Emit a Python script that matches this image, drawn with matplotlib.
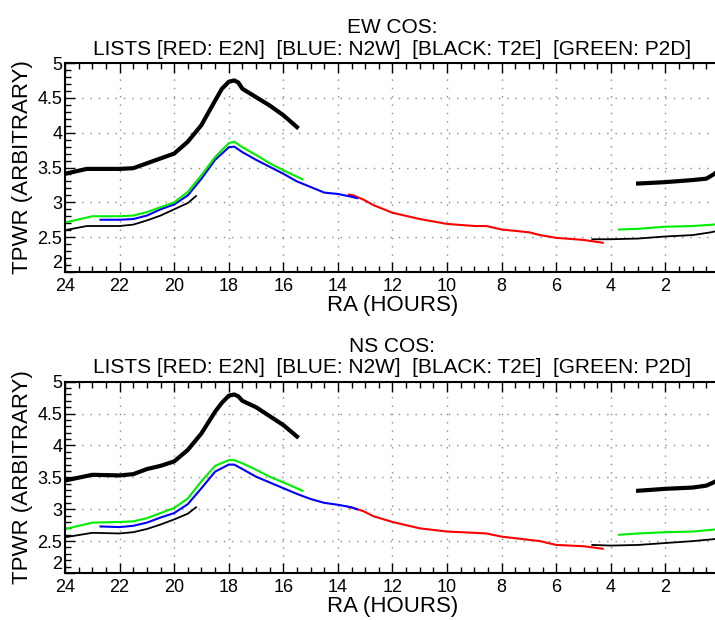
import matplotlib
matplotlib.use('Agg')
import matplotlib.pyplot as plt
from matplotlib.ticker import MultipleLocator

plt.rcParams['font.family'] = ['Liberation Sans', 'DejaVu Sans']

# ---- EW COS panel ----
ew_t2e_thick_left_x = [24, 23.2, 22, 21.5, 21, 20.5, 20, 19.5, 19, 18.5, 18.25, 18, 17.8, 17.65, 17.5, 17, 16.5, 16, 15.5]
ew_t2e_thick_left_y = [3.41, 3.48, 3.48, 3.49, 3.56, 3.63, 3.70, 3.87, 4.11, 4.46, 4.63, 4.73, 4.75, 4.72, 4.63, 4.51, 4.39, 4.25, 4.08]
ew_p2d_left_x = [24, 23, 22, 21.5, 21, 20.5, 20, 19.5, 19, 18.5, 18, 17.8, 17.5, 17, 16.5, 16, 15.3]
ew_p2d_left_y = [2.71, 2.80, 2.80, 2.81, 2.86, 2.93, 3.00, 3.15, 3.39, 3.65, 3.85, 3.87, 3.79, 3.68, 3.56, 3.46, 3.33]
ew_n2w_x = [22.7, 22, 21.5, 21, 20.5, 20, 19.5, 19, 18.5, 18, 17.8, 17.5, 17, 16.5, 16, 15.5, 15, 14.5, 14, 13.5, 13.3]
ew_n2w_y = [2.75, 2.75, 2.76, 2.81, 2.90, 2.97, 3.10, 3.34, 3.61, 3.79, 3.80, 3.72, 3.61, 3.51, 3.41, 3.30, 3.22, 3.14, 3.12, 3.08, 3.06]
ew_t2e_thin_left_x = [24, 23.2, 22, 21.5, 21, 20.5, 20, 19.5, 19.2]
ew_t2e_thin_left_y = [2.60, 2.66, 2.66, 2.68, 2.74, 2.81, 2.90, 2.99, 3.09]
ew_e2n_x = [13.6, 13.44, 13.07, 12.7, 12, 11, 10, 9, 8.56, 8, 7, 6.6, 6, 5, 4.3]
ew_e2n_y = [3.11, 3.10, 3.04, 2.96, 2.85, 2.76, 2.69, 2.66, 2.66, 2.61, 2.57, 2.53, 2.49, 2.46, 2.42]
ew_t2e_thin_right_x = [4.68, 4, 3, 2, 1, 0.33, 0.1]
ew_t2e_thin_right_y = [2.47, 2.47, 2.48, 2.51, 2.53, 2.57, 2.59]
ew_p2d_right_x = [3.7, 3, 2, 1, 0.24, 0.1]
ew_p2d_right_y = [2.61, 2.62, 2.65, 2.66, 2.68, 2.69]
ew_t2e_thick_right_x = [3.0, 2, 1, 0.5, 0.24, 0.1]
ew_t2e_thick_right_y = [3.27, 3.29, 3.32, 3.34, 3.40, 3.44]

# ---- NS COS panel ----
ns_t2e_thick_left_x = [24, 23, 22, 21.5, 21, 20.5, 20, 19.5, 19, 18.5, 18.25, 18, 17.8, 17.65, 17.5, 17, 16.5, 16, 15.5]
ns_t2e_thick_left_y = [3.45, 3.54, 3.53, 3.55, 3.63, 3.68, 3.75, 3.93, 4.19, 4.53, 4.67, 4.78, 4.80, 4.77, 4.70, 4.60, 4.46, 4.32, 4.14]
ns_p2d_left_x = [24, 23, 22, 21.5, 21, 20.5, 20, 19.5, 19, 18.5, 18, 17.8, 17.5, 17, 16.5, 16, 15.3]
ns_p2d_left_y = [2.69, 2.79, 2.80, 2.81, 2.86, 2.94, 3.02, 3.17, 3.44, 3.68, 3.77, 3.77, 3.72, 3.62, 3.51, 3.42, 3.29]
ns_n2w_x = [22.7, 22, 21.5, 21, 20.5, 20, 19.5, 19, 18.5, 18, 17.8, 17.5, 17, 16.5, 16, 15.5, 15, 14.5, 14, 13.5, 13.3]
ns_n2w_y = [2.73, 2.72, 2.74, 2.79, 2.87, 2.94, 3.08, 3.33, 3.59, 3.70, 3.70, 3.63, 3.51, 3.42, 3.33, 3.24, 3.16, 3.10, 3.07, 3.03, 3.00]
ns_t2e_thin_left_x = [24, 23, 22, 21.5, 21, 20.5, 20, 19.5, 19.2]
ns_t2e_thin_left_y = [2.56, 2.63, 2.62, 2.64, 2.69, 2.76, 2.84, 2.93, 3.03]
ns_e2n_x = [13.6, 13.44, 13.07, 12.7, 12, 11, 10, 9, 8.56, 8, 7, 6.6, 6, 5, 4.3]
ns_e2n_y = [3.03, 3.02, 2.97, 2.89, 2.80, 2.70, 2.65, 2.63, 2.62, 2.57, 2.52, 2.50, 2.44, 2.42, 2.38]
ns_t2e_thin_right_x = [4.68, 4, 3, 2, 1, 0.24, 0.1]
ns_t2e_thin_right_y = [2.44, 2.43, 2.44, 2.47, 2.50, 2.53, 2.54]
ns_p2d_right_x = [3.7, 3, 2, 1, 0.24, 0.1]
ns_p2d_right_y = [2.60, 2.62, 2.64, 2.65, 2.68, 2.69]
ns_t2e_thick_right_x = [3.0, 2, 1, 0.5, 0.24, 0.1]
ns_t2e_thick_right_y = [3.29, 3.32, 3.34, 3.37, 3.42, 3.45]

x_ticks = [24, 22, 20, 18, 16, 14, 12, 10, 8, 6, 4, 2]
y_ticks = [2, 2.5, 3, 3.5, 4, 4.5, 5]
y_tick_labels = ['2', '2.5', '3', '3.5', '4', '4.5', '5']
subtitle = 'LISTS [RED: E2N]  [BLUE: N2W]  [BLACK: T2E]  [GREEN: P2D]'


def draw_panel(ax, title, d):
    ax.plot(d['e2n'][0], d['e2n'][1], color='#ff0000', lw=1.5)
    ax.plot(d['n2w'][0], d['n2w'][1], color='#0000ff', lw=1.5)
    ax.plot(d['p2d_l'][0], d['p2d_l'][1], color='#00ee00', lw=1.5)
    ax.plot(d['p2d_r'][0], d['p2d_r'][1], color='#00ee00', lw=1.5)
    ax.plot(d['thin_l'][0], d['thin_l'][1], color='black', lw=1.3)
    ax.plot(d['thin_r'][0], d['thin_r'][1], color='black', lw=1.3)
    ax.plot(d['thick_l'][0], d['thick_l'][1], color='black', lw=3.0, solid_joinstyle='round')
    ax.plot(d['thick_r'][0], d['thick_r'][1], color='black', lw=3.0)

    ax.set_xlim(24, 0)
    ax.set_ylim(2, 5)
    ax.set_xticks(x_ticks)
    ax.set_yticks(y_ticks)
    ax.set_yticklabels(y_tick_labels)
    # bottom label sits just above the axis line, as in the original
    ax.get_yticklabels()[0].set_verticalalignment('bottom')
    ax.xaxis.set_minor_locator(MultipleLocator(0.5))
    ax.yaxis.set_minor_locator(MultipleLocator(0.1))
    ax.tick_params(which='both', direction='in', top=True, right=False, labelsize=13)
    ax.tick_params(axis='x', pad=4)
    ax.tick_params(axis='y', pad=2)
    ax.tick_params(which='major', length=7, width=1)
    ax.tick_params(which='minor', length=4, width=1)
    ax.grid(True, which='major', color='#888888', linestyle=(0, (1, 5)), linewidth=1)
    for side in ['left', 'bottom', 'top']:
        ax.spines[side].set_linewidth(1.5)
    ax.set_xlabel('RA (HOURS)', fontsize=16, labelpad=0)
    ax.set_ylabel('TPWR (ARBITRARY)', fontsize=16, labelpad=3)
    ax.set_title(title + '\n' + subtitle, fontsize=15, linespacing=1.15, pad=6)


fig = plt.figure(figsize=(7.15, 6.2), dpi=100)
ax1 = fig.add_axes([65 / 715, 1 - 272 / 620, 655 / 715, 209 / 620])
ax2 = fig.add_axes([65 / 715, 1 - 573 / 620, 655 / 715, 191.3 / 620])

ew = {
    'e2n': (ew_e2n_x, ew_e2n_y), 'n2w': (ew_n2w_x, ew_n2w_y),
    'p2d_l': (ew_p2d_left_x, ew_p2d_left_y), 'p2d_r': (ew_p2d_right_x, ew_p2d_right_y),
    'thin_l': (ew_t2e_thin_left_x, ew_t2e_thin_left_y), 'thin_r': (ew_t2e_thin_right_x, ew_t2e_thin_right_y),
    'thick_l': (ew_t2e_thick_left_x, ew_t2e_thick_left_y), 'thick_r': (ew_t2e_thick_right_x, ew_t2e_thick_right_y),
}
ns = {
    'e2n': (ns_e2n_x, ns_e2n_y), 'n2w': (ns_n2w_x, ns_n2w_y),
    'p2d_l': (ns_p2d_left_x, ns_p2d_left_y), 'p2d_r': (ns_p2d_right_x, ns_p2d_right_y),
    'thin_l': (ns_t2e_thin_left_x, ns_t2e_thin_left_y), 'thin_r': (ns_t2e_thin_right_x, ns_t2e_thin_right_y),
    'thick_l': (ns_t2e_thick_left_x, ns_t2e_thick_left_y), 'thick_r': (ns_t2e_thick_right_x, ns_t2e_thick_right_y),
}

draw_panel(ax1, 'EW COS:', ew)
draw_panel(ax2, 'NS COS:', ns)

fig.savefig('out.png', dpi=100)
